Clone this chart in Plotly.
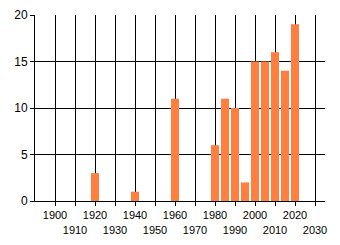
import plotly.graph_objects as go

years = [1920, 1940, 1960, 1980, 1985, 1990, 1995, 2000, 2005, 2010, 2015, 2020]
counts = [3, 1, 11, 6, 11, 10, 2, 15, 15, 16, 14, 19]
tick_years = list(range(1900, 2031, 10))
tick_labels = [str(y) if i % 2 == 0 else "<br>" + str(y) for i, y in enumerate(tick_years)]
y_ticks = [0, 5, 10, 15, 20]

fig = go.Figure(go.Bar(x=years, y=counts, width=4, marker=dict(color="#FF7F40", line=dict(width=0))))
fig.update_layout(
    width=340, height=245,
    margin=dict(l=35, r=15, t=15, b=44),
    plot_bgcolor="white", paper_bgcolor="white",
    font=dict(family="Liberation Sans, Arial, sans-serif", size=11, color="#000"),
    showlegend=False,
)
fig.update_xaxes(range=[1890, 2035], tickvals=tick_years, ticktext=tick_labels,
                 tickangle=0, automargin=False,
                 showgrid=True, gridcolor="black", gridwidth=1,
                 showline=True, linecolor="black", linewidth=1,
                 ticks="outside", ticklen=4, tickcolor="black", zeroline=False,
                 tickfont=dict(size=11))
fig.update_yaxes(range=[0, 20], tickvals=y_ticks, automargin=False,
                 showgrid=True, gridcolor="black", gridwidth=1,
                 showline=True, linecolor="black", linewidth=1,
                 ticks="outside", ticklen=4, tickcolor="black", zeroline=False,
                 tickfont=dict(size=12))
fig.write_html("out.html")
